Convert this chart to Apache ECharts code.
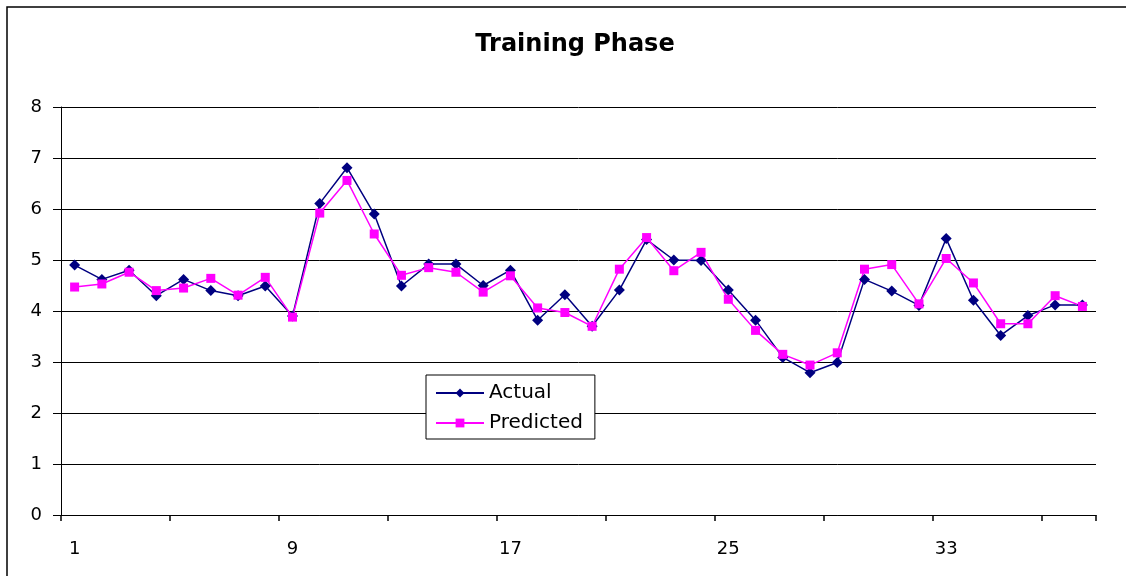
<!DOCTYPE html>
<html>
<head>
<meta charset="UTF-8">
<title>Training Phase</title>
<script src="https://cdn.jsdelivr.net/npm/echarts@6/dist/echarts.min.js"></script>
<style>
  html, body { margin: 0; padding: 0; background: #fff; }
  #chart { width: 1126px; height: 576px; }
</style>
</head>
<body>
<div id="chart"></div>
<script>
// sample numbers 1..38 on the category axis
var samples = [];
for (var i = 1; i <= 38; i++) samples.push(String(i));

// actual values (navy diamonds)
var actual = [4.90, 4.62, 4.80, 4.30, 4.62, 4.40, 4.30, 4.49, 3.90, 6.11,
              6.81, 5.90, 4.49, 4.92, 4.92, 4.50, 4.80, 3.82, 4.32, 3.70,
              4.41, 5.40, 5.00, 4.99, 4.41, 3.82, 3.09, 2.79, 2.99, 4.62,
              4.39, 4.11, 5.42, 4.21, 3.52, 3.91, 4.12, 4.12];

// predicted values (magenta squares)
var predicted = [4.47, 4.53, 4.76, 4.40, 4.45, 4.64, 4.31, 4.66, 3.88, 5.92,
                 6.56, 5.51, 4.70, 4.85, 4.76, 4.37, 4.69, 4.06, 3.97, 3.70,
                 4.82, 5.44, 4.79, 5.15, 4.23, 3.62, 3.15, 2.94, 3.18, 4.82,
                 4.91, 4.14, 5.03, 4.55, 3.75, 3.75, 4.30, 4.09];

// wide sans to get close to the stretched look of the original
var font = '"DejaVu Sans", "Liberation Sans", Arial, sans-serif';

var chart = echarts.init(document.getElementById('chart'));

var option = {
    backgroundColor: '#fff',
    animation: false,
    title: {
        text: 'Training Phase',
        left: 570,
        top: 28,
        textAlign: 'center',
        textStyle: { fontFamily: font, fontSize: 24, fontWeight: 'bold', color: '#000' }
    },
    graphic: [{
        type: 'rect',
        shape: { x: 7, y: 7, width: 1300, height: 800 },
        style: { fill: 'none', stroke: '#000', lineWidth: 1.5 },
        silent: true,
        z: -1
    }],
    legend: {
        orient: 'vertical',
        left: 426,
        top: 375,
        padding: [8, 12, 6, 9],
        itemWidth: 48,
        itemHeight: 11,
        itemGap: 10,
        borderColor: '#000',
        borderWidth: 1,
        backgroundColor: '#fff',
        textStyle: { fontFamily: font, fontSize: 20, color: '#000' },
        data: ['Actual', 'Predicted']
    },
    grid: { left: 61, right: 30, top: 107, bottom: 61 },
    xAxis: {
        type: 'category',
        data: samples,
        boundaryGap: true,
        axisLine: { lineStyle: { color: '#000', width: 1 } },
        // tick every 4 samples, none at the far right end
        axisTick: {
            show: true,
            interval: function (index) { return index % 4 === 0 && index < samples.length; },
            length: 6,
            lineStyle: { color: '#000', width: 1.5 }
        },
        axisLabel: { interval: 7, margin: 25, fontFamily: font, fontSize: 18, color: '#000' },
        splitLine: { show: false }
    },
    yAxis: {
        type: 'value',
        min: 0,
        max: 8,
        interval: 1,
        axisLine: { show: true, lineStyle: { color: '#000', width: 1 } },
        axisTick: { show: true, length: 8, lineStyle: { color: '#000' } },
        axisLabel: { margin: 19, fontFamily: font, fontSize: 18, color: '#000' },
        splitLine: { lineStyle: { color: '#000', width: 1 } }
    },
    series: [{
        name: 'Actual',
        type: 'line',
        data: actual,
        symbol: 'diamond',
        symbolSize: 11,
        showAllSymbol: true,
        color: '#000080',
        lineStyle: { width: 1.5, color: '#000080' },
        itemStyle: { color: '#000080' }
    }, {
        name: 'Predicted',
        type: 'line',
        data: predicted,
        symbol: 'rect',
        symbolSize: 9,
        showAllSymbol: true,
        color: '#ff00ff',
        lineStyle: { width: 1.5, color: '#ff00ff' },
        itemStyle: { color: '#ff00ff' }
    }]
};

chart.setOption(option);
</script>
</body>
</html>
